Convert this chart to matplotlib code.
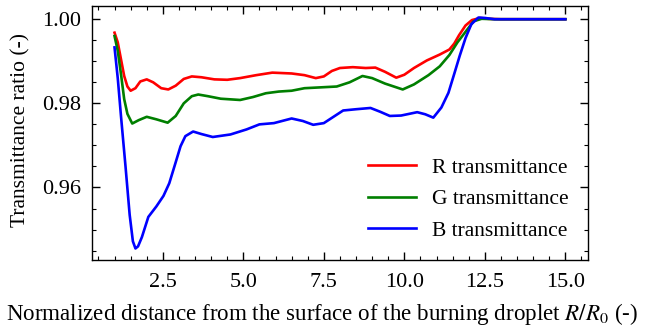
import matplotlib
matplotlib.use('Agg')
import matplotlib.pyplot as plt
from matplotlib.ticker import MultipleLocator, FormatStrFormatter

plt.rcParams['font.family'] = ['Liberation Serif', 'DejaVu Serif']
plt.rcParams['mathtext.fontset'] = 'stix'

# R transmittance
r_x = [1.0, 1.1, 1.2, 1.3, 1.4, 1.5, 1.65, 1.8, 2.0, 2.2, 2.45, 2.67, 2.9, 3.15,
       3.4, 3.7, 4.1, 4.5, 4.9, 5.4, 5.9, 6.5, 6.9, 7.25, 7.5, 7.75, 8.0, 8.4,
       8.8, 9.1, 9.4, 9.75, 10.0, 10.3, 10.7, 11.1, 11.4, 11.55, 11.7, 11.9,
       12.1, 12.35, 12.6, 13.0, 14.0, 15.0]
r_y = [0.9968, 0.9945, 0.9905, 0.9865, 0.9840, 0.9830, 0.9836, 0.9852, 0.9857,
       0.9850, 0.9836, 0.9833, 0.9842, 0.9858, 0.9864, 0.9862, 0.9857, 0.9856,
       0.9860, 0.9867, 0.9873, 0.9871, 0.9867, 0.9860, 0.9864, 0.9877, 0.9884,
       0.9886, 0.9884, 0.9885, 0.9875, 0.9861, 0.9868, 0.9884, 0.9902, 0.9916,
       0.9928, 0.9942, 0.9962, 0.9985, 0.9998, 1.0003, 1.0001, 1.0000, 1.0000,
       1.0000]

# G transmittance
g_x = [1.0, 1.1, 1.2, 1.3, 1.4, 1.55, 1.75, 2.0, 2.3, 2.65, 2.9, 3.15, 3.4, 3.6,
       3.9, 4.3, 4.9, 5.3, 5.7, 6.1, 6.5, 6.9, 7.4, 7.9, 8.3, 8.7, 9.0, 9.4,
       9.95, 10.3, 10.75, 11.1, 11.4, 11.65, 11.9, 12.15, 12.4, 12.8, 14.0, 15.0]
g_y = [0.9960, 0.9925, 0.9870, 0.9810, 0.9775, 0.9752, 0.9760, 0.9768, 0.9762,
       0.9754, 0.9770, 0.9800, 0.9817, 0.9821, 0.9817, 0.9811, 0.9808, 0.9815,
       0.9824, 0.9828, 0.9830, 0.9836, 0.9838, 0.9840, 0.9850, 0.9865, 0.9860,
       0.9847, 0.9833, 0.9845, 0.9867, 0.9888, 0.9915, 0.9945, 0.9970, 0.9995,
       1.0001, 1.0000, 1.0000, 1.0000]

# B transmittance
b_x = [1.0, 1.1, 1.2, 1.34, 1.47, 1.57, 1.65, 1.73, 1.85, 2.05, 2.3, 2.52, 2.7,
       2.88, 3.05, 3.2, 3.44, 3.7, 4.05, 4.6, 5.1, 5.5, 5.95, 6.5, 6.85, 7.17,
       7.5, 7.8, 8.1, 8.5, 8.95, 9.25, 9.55, 9.9, 10.4, 10.65, 10.9, 11.15,
       11.37, 11.55, 11.72, 11.9, 12.08, 12.3, 12.5, 12.8, 14.0, 15.0]
b_y = [0.9933, 0.9860, 0.9770, 0.9651, 0.9535, 0.9472, 0.9455, 0.9460, 0.9482,
       0.9530, 0.9555, 0.9580, 0.9610, 0.9655, 0.9698, 0.9722, 0.9733, 0.9727,
       0.9720, 0.9726, 0.9738, 0.9750, 0.9753, 0.9764, 0.9758, 0.9749, 0.9753,
       0.9768, 0.9783, 0.9786, 0.9789, 0.9780, 0.9770, 0.9771, 0.9779, 0.9774,
       0.9766, 0.9790, 0.9825, 0.9870, 0.9913, 0.9955, 0.9988, 1.0004, 1.0003,
       1.0000, 1.0000, 1.0000]

fig = plt.figure(figsize=(6.46, 3.29), dpi=100)
ax = fig.add_axes([0.1424, 0.2097, 0.7676, 0.7721])

kw = dict(lw=1.9, solid_joinstyle='round')
ax.plot(r_x, r_y, color='#ff0000', label='R transmittance', **kw)
ax.plot(g_x, g_y, color='#007f00', label='G transmittance', **kw)
ax.plot(b_x, b_y, color='#0000ff', label='B transmittance', **kw)

ax.xaxis.set_major_locator(MultipleLocator(2.5))
ax.xaxis.set_minor_locator(MultipleLocator(0.5))
ax.yaxis.set_major_locator(MultipleLocator(0.02))
ax.yaxis.set_minor_locator(MultipleLocator(0.005))
ax.xaxis.set_major_formatter(FormatStrFormatter('%.1f'))
ax.yaxis.set_major_formatter(FormatStrFormatter('%.2f'))
ax.tick_params(which='both', direction='in', top=True, right=True, labelsize=16)
ax.tick_params(which='major', length=6, width=1)
ax.tick_params(axis='x', which='major', pad=9)
ax.tick_params(axis='y', which='major', pad=8)
ax.tick_params(which='minor', length=3, width=0.8)
for s in ax.spines.values():
    s.set_linewidth(1)

ax.set_xlabel('Normalized distance from the surface of the burning droplet $R/R_0$ (-)', fontsize=16.6)
ax.set_ylabel('Transmittance ratio (-)', fontsize=15.5)
ax.xaxis.set_label_coords(0.464, -0.16)
ax.yaxis.set_label_coords(-0.125, 0.51)

ax.legend(loc='lower right', frameon=False, fontsize=15.5, handlelength=2.2,
          handletextpad=0.75, labelspacing=0.53)

fig.savefig('out.png', dpi=100)
